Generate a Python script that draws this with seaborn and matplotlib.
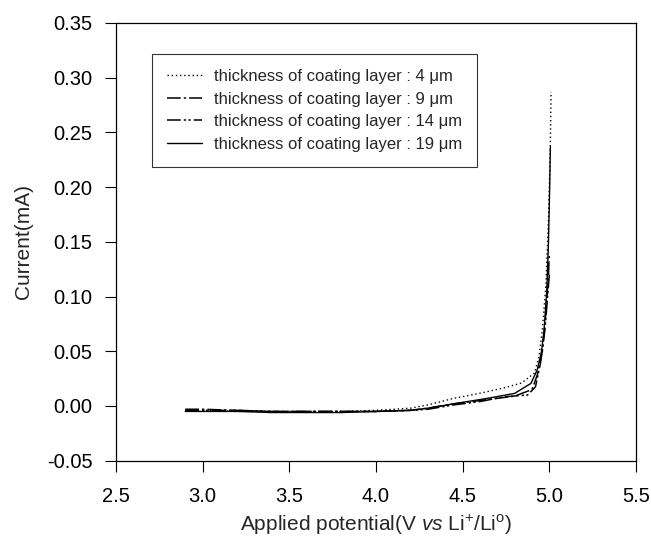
import numpy as np
import pandas as pd
import matplotlib
matplotlib.use("Agg")
import matplotlib.pyplot as plt
import seaborn as sns

# Linear sweep voltammetry: current vs applied potential for four coating thicknesses
labels = [
    "thickness of coating layer : 4 \u03bcm",
    "thickness of coating layer : 9 \u03bcm",
    "thickness of coating layer : 14 \u03bcm",
    "thickness of coating layer : 19 \u03bcm",
]

v_4um = [2.9, 3.0, 3.2, 3.4, 3.6, 3.8, 4.0, 4.2, 4.3, 4.45, 4.55, 4.64, 4.75, 4.84, 4.914, 4.94, 4.96, 4.98, 4.995, 5.005, 5.01]
i_4um = [-0.004, -0.004, -0.005, -0.005, -0.005, -0.005, -0.004, -0.002, 0.001, 0.007, 0.010, 0.013, 0.017, 0.021, 0.030, 0.045, 0.070, 0.110, 0.170, 0.230, 0.287]

v_9um = [2.9, 3.0, 3.2, 3.4, 3.6, 3.8, 4.0, 4.2, 4.3, 4.45, 4.6, 4.7, 4.8, 4.9, 4.93, 4.96, 4.98, 4.995, 5.0]
i_9um = [-0.003, -0.003, -0.004, -0.005, -0.005, -0.005, -0.005, -0.004, -0.002, 0.002, 0.005, 0.007, 0.009, 0.015, 0.028, 0.050, 0.085, 0.120, 0.140]

v_14um = [2.9, 3.0, 3.2, 3.4, 3.6, 3.8, 4.0, 4.2, 4.3, 4.45, 4.6, 4.74, 4.875, 4.92, 4.95, 4.975, 4.99, 5.0]
i_14um = [-0.004, -0.004, -0.004, -0.005, -0.005, -0.005, -0.005, -0.004, -0.003, 0.001, 0.004, 0.0084, 0.010, 0.0175, 0.040, 0.070, 0.100, 0.120]

v_19um = [2.9, 3.0, 3.2, 3.4, 3.6, 3.8, 4.0, 4.2, 4.3, 4.45, 4.644, 4.8, 4.894, 4.93, 4.955, 4.97, 4.985, 4.995, 5.002, 5.006]
i_19um = [-0.005, -0.005, -0.005, -0.006, -0.006, -0.006, -0.005, -0.004, -0.002, 0.002, 0.007, 0.0115, 0.0206, 0.033, 0.050, 0.070, 0.105, 0.150, 0.200, 0.237]

x_ticks = [2.5, 3.0, 3.5, 4.0, 4.5, 5.0, 5.5]
y_ticks = [-0.05, 0.00, 0.05, 0.10, 0.15, 0.20, 0.25, 0.30, 0.35]

sns.set_style("ticks")
plt.rcParams["font.family"] = ["Liberation Sans", "DejaVu Sans"]
plt.rcParams["mathtext.fontset"] = "custom"
plt.rcParams["mathtext.rm"] = "Liberation Sans"
plt.rcParams["mathtext.it"] = "Liberation Sans:italic"

fig = plt.figure(figsize=(6.51, 5.45), dpi=100)
ax = fig.add_axes([0.178, 0.1547, 0.799, 0.8033])

series = [(v_4um, i_4um), (v_9um, i_9um), (v_14um, i_14um), (v_19um, i_19um)]
styles = [(0, (1, 2)), (0, (9, 2, 1.5, 2)), (0, (9, 2, 1.5, 1.5, 1.5, 2)), "-"]
widths = [1.0, 1.1, 1.1, 1.0]

for (v, i), lab, ls, lw in zip(series, labels, styles, widths):
    df = pd.DataFrame({"V": v, "I": i})
    sns.lineplot(data=df, x="V", y="I", ax=ax, sort=False, color="black",
                 linestyle=ls, linewidth=lw, label=lab)

ax.set_xlim(2.5, 5.5)
ax.set_ylim(-0.05, 0.35)
ax.set_xticks(x_ticks)
ax.set_yticks(y_ticks)
ax.set_xticklabels([f"{t:.1f}" for t in x_ticks])
ax.set_yticklabels([f"{t:.2f}" for t in y_ticks])
ax.tick_params(axis="both", direction="out", length=8, width=0.8,
               labelsize=14.5, color="black", labelcolor="black")
ax.tick_params(axis="y", pad=9)
ax.tick_params(axis="x", pad=11)
for sp in ax.spines.values():
    sp.set_visible(True)
    sp.set_linewidth(0.9)
    sp.set_color("black")

ax.set_xlabel(r"Applied potential(V $\mathit{vs}$ Li$^{+}$/Li$^{\mathrm{o}}$)",
              fontsize=15, labelpad=5)
ax.set_ylabel("Current(mA)", fontsize=15, labelpad=10)

leg = ax.legend(loc="upper left", bbox_to_anchor=(0.0695, 0.9285), fontsize=12,
                frameon=True, fancybox=False, handlelength=2.1, handletextpad=0.72,
                borderpad=0.9, labelspacing=0.45, borderaxespad=0)
leg.get_frame().set_edgecolor("black")
leg.get_frame().set_linewidth(0.8)

fig.savefig("out.png", dpi=100)
